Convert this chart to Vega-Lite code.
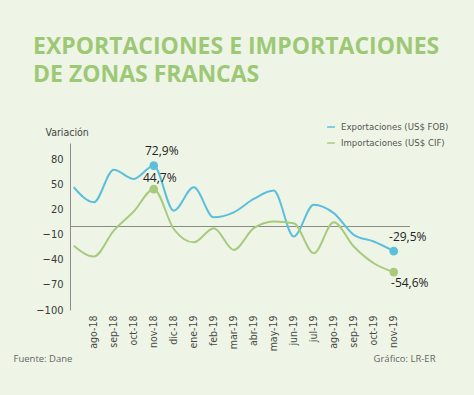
{
  "$schema": "https://vega.github.io/schema/vega-lite/v6.json",
  "width": 340,
  "height": 167,
  "autosize": {"type": "none"},
  "padding": {"left": 70, "top": 143, "right": 64, "bottom": 85},
  "background": "#eef5e6",
  "config": {
    "view": {"stroke": null},
    "font": "DejaVu Sans Condensed"
  },
  "title": {
    "text": ["EXPORTACIONES E IMPORTACIONES", "DE ZONAS FRANCAS"],
    "anchor": "start",
    "frame": "group",
    "font": "Open Sans",
    "fontWeight": "bold",
    "fontSize": 23,
    "lineHeight": 28,
    "color": "#9dc875",
    "dx": -37,
    "offset": 35
  },
  "datasets": {
    "series": [
      {"month": "jul-18", "serie": "Exportaciones (US$ FOB)", "value": 47},
      {"month": "ago-18", "serie": "Exportaciones (US$ FOB)", "value": 29},
      {"month": "sep-18", "serie": "Exportaciones (US$ FOB)", "value": 68},
      {"month": "oct-18", "serie": "Exportaciones (US$ FOB)", "value": 57},
      {"month": "nov-18", "serie": "Exportaciones (US$ FOB)", "value": 72.9},
      {"month": "dic-18", "serie": "Exportaciones (US$ FOB)", "value": 19},
      {"month": "ene-19", "serie": "Exportaciones (US$ FOB)", "value": 47},
      {"month": "feb-19", "serie": "Exportaciones (US$ FOB)", "value": 11},
      {"month": "mar-19", "serie": "Exportaciones (US$ FOB)", "value": 17},
      {"month": "abr-19", "serie": "Exportaciones (US$ FOB)", "value": 33},
      {"month": "may-19", "serie": "Exportaciones (US$ FOB)", "value": 43},
      {"month": "jun-19", "serie": "Exportaciones (US$ FOB)", "value": -12},
      {"month": "jul-19", "serie": "Exportaciones (US$ FOB)", "value": 26},
      {"month": "ago-19", "serie": "Exportaciones (US$ FOB)", "value": 16},
      {"month": "sep-19", "serie": "Exportaciones (US$ FOB)", "value": -10},
      {"month": "oct-19", "serie": "Exportaciones (US$ FOB)", "value": -18},
      {"month": "nov-19", "serie": "Exportaciones (US$ FOB)", "value": -29.5},
      {"month": "jul-18", "serie": "Importaciones  (US$ CIF)", "value": -23},
      {"month": "ago-18", "serie": "Importaciones  (US$ CIF)", "value": -36},
      {"month": "sep-18", "serie": "Importaciones  (US$ CIF)", "value": -5},
      {"month": "oct-18", "serie": "Importaciones  (US$ CIF)", "value": 18},
      {"month": "nov-18", "serie": "Importaciones  (US$ CIF)", "value": 44.7},
      {"month": "dic-18", "serie": "Importaciones  (US$ CIF)", "value": -3},
      {"month": "ene-19", "serie": "Importaciones  (US$ CIF)", "value": -19},
      {"month": "feb-19", "serie": "Importaciones  (US$ CIF)", "value": -2},
      {"month": "mar-19", "serie": "Importaciones  (US$ CIF)", "value": -28},
      {"month": "abr-19", "serie": "Importaciones  (US$ CIF)", "value": -2},
      {"month": "may-19", "serie": "Importaciones  (US$ CIF)", "value": 6},
      {"month": "jun-19", "serie": "Importaciones  (US$ CIF)", "value": 4},
      {"month": "jul-19", "serie": "Importaciones  (US$ CIF)", "value": -32},
      {"month": "ago-19", "serie": "Importaciones  (US$ CIF)", "value": 5},
      {"month": "sep-19", "serie": "Importaciones  (US$ CIF)", "value": -24},
      {"month": "oct-19", "serie": "Importaciones  (US$ CIF)", "value": -44},
      {"month": "nov-19", "serie": "Importaciones  (US$ CIF)", "value": -54.6}
    ],
    "etiquetas": [
      {"month": "nov-18", "serie": "Exportaciones (US$ FOB)", "value": 72.9, "label": "72,9%"},
      {"month": "nov-18", "serie": "Importaciones  (US$ CIF)", "value": 44.7, "label": "44,7%"},
      {"month": "nov-19", "serie": "Exportaciones (US$ FOB)", "value": -29.5, "label": "-29,5%"},
      {"month": "nov-19", "serie": "Importaciones  (US$ CIF)", "value": -54.6, "label": "-54,6%"}
    ]
  },
  "encoding": {
    "x": {
      "field": "month",
      "type": "ordinal",
      "sort": null,
      "scale": {"type": "point", "paddingOuter": 0.395, "align": 0.1875},
      "axis": {
        "values": ["ago-18","sep-18","oct-18","nov-18","dic-18","ene-19","feb-19","mar-19","abr-19","may-19","jun-19","jul-19","ago-19","sep-19","oct-19","nov-19"],
        "labelAngle": -90,
        "labelPadding": 5,
        "labelFontSize": 10.5,
        "labelColor": "#4a4a4a",
        "ticks": false,
        "domain": false,
        "title": "Fuente: Dane",
        "titleFontSize": 9.5,
        "titleFontWeight": "normal",
        "titleColor": "#666666",
        "titleFont": "Open Sans",
        "titleX": -57,
        "titleY": 51,
        "titleAlign": "left",
        "titleBaseline": "alphabetic"
      }
    }
  },
  "layer": [
    {
      "data": {"name": "series"},
      "mark": {"type": "rule", "color": "#8a8c82", "strokeWidth": 1.2},
      "encoding": {
        "x": null,
        "y": {
          "datum": 0,
          "type": "quantitative",
          "scale": {"domain": [-100, 100]},
          "axis": {
            "orient": "right",
            "labels": false,
            "ticks": false,
            "domain": false,
            "grid": false,
            "title": "Gráfico: LR-ER",
            "titleAngle": 0,
            "titleFontSize": 9.5,
            "titleFontWeight": "normal",
            "titleColor": "#666666",
            "titleFont": "Open Sans",
            "titleX": 25,
            "titleY": 218,
            "titleAlign": "right",
            "titleBaseline": "alphabetic"
          }
        }
      }
    },
    {
      "encoding": {
        "y": {
          "field": "value",
          "type": "quantitative",
          "scale": {"domain": [-100, 100]},
          "axis": {
            "values": [-100, -70, -40, -10, 20, 50, 80],
            "grid": false,
            "ticks": false,
            "domainColor": "#8c8c8c",
            "labelPadding": 7,
            "labelFontSize": 11,
            "labelColor": "#3a3a3a",
            "title": "Variación",
            "titleAngle": 0,
            "titleFontSize": 10.5,
            "titleFontWeight": "normal",
            "titleColor": "#444444",
            "titleX": -25,
            "titleY": -8,
            "titleAlign": "left",
            "titleBaseline": "alphabetic"
          }
        }
      },
      "layer": [
        {
          "data": {"name": "series"},
          "mark": {"type": "line", "interpolate": "monotone", "strokeWidth": 2},
          "encoding": {
            "color": {
              "field": "serie",
              "type": "nominal",
              "scale": {"domain": ["Exportaciones (US$ FOB)", "Importaciones  (US$ CIF)"], "range": ["#5bbfdc", "#a8ca7e"]},
              "legend": {
                "orient": "none",
                "legendX": 256,
                "legendY": -21,
                "title": null,
                "symbolType": "stroke",
                "symbolSize": 60,
                "symbolStrokeWidth": 1.5,
                "labelFontSize": 9.5,
                "labelColor": "#555555",
                "rowPadding": 6,
                "labelOffset": 5
              }
            }
          }
        },
        {
          "data": {"name": "etiquetas"},
          "mark": {"type": "circle", "size": 75, "opacity": 1},
          "encoding": {
            "fill": {
              "field": "serie",
              "type": "nominal",
              "scale": {"domain": ["Exportaciones (US$ FOB)", "Importaciones  (US$ CIF)"], "range": ["#5bbfdc", "#a8ca7e"]},
              "legend": null
            }
          }
        },
        {
          "data": {"name": "etiquetas"},
          "transform": [{"filter": "datum.label == '72,9%'"}],
          "mark": {"type": "text", "font": "Open Sans", "fontSize": 12, "color": "#222222", "dx": 8, "dy": -11, "baseline": "alphabetic"},
          "encoding": {"text": {"field": "label"}}
        },
        {
          "data": {"name": "etiquetas"},
          "transform": [{"filter": "datum.label == '44,7%'"}],
          "mark": {"type": "text", "font": "Open Sans", "fontSize": 12, "color": "#222222", "dx": 6, "dy": -7, "baseline": "alphabetic"},
          "encoding": {"text": {"field": "label"}}
        },
        {
          "data": {"name": "etiquetas"},
          "transform": [{"filter": "datum.label == '-29,5%'"}],
          "mark": {"type": "text", "font": "Open Sans", "fontSize": 12, "color": "#222222", "dx": 14, "dy": -10, "baseline": "alphabetic"},
          "encoding": {"text": {"field": "label"}}
        },
        {
          "data": {"name": "etiquetas"},
          "transform": [{"filter": "datum.label == '-54,6%'"}],
          "mark": {"type": "text", "font": "Open Sans", "fontSize": 12, "color": "#222222", "dx": 16, "dy": 15, "baseline": "alphabetic"},
          "encoding": {"text": {"field": "label"}}
        }
      ]
    }
  ],
  "resolve": {"scale": {"y": "independent"}}
}
